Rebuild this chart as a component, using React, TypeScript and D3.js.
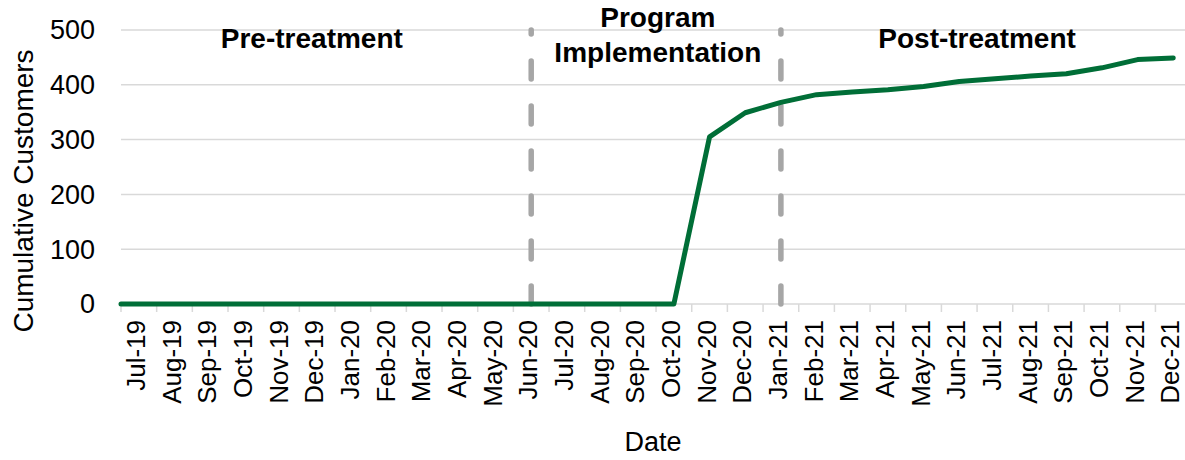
import React, { useEffect, useRef } from 'react';
import * as d3 from 'd3';

const width = 1185;
const height = 460;
const padding = { left: 121, top: 30, bottom: 304 };
const bandWidth = 35.67;

const months = [
  'Jul-19', 'Aug-19', 'Sep-19', 'Oct-19', 'Nov-19', 'Dec-19',
  'Jan-20', 'Feb-20', 'Mar-20', 'Apr-20', 'May-20', 'Jun-20',
  'Jul-20', 'Aug-20', 'Sep-20', 'Oct-20', 'Nov-20', 'Dec-20',
  'Jan-21', 'Feb-21', 'Mar-21', 'Apr-21', 'May-21', 'Jun-21',
  'Jul-21', 'Aug-21', 'Sep-21', 'Oct-21', 'Nov-21', 'Dec-21',
];

const customers = [
  0, 0, 0, 0, 0, 0,
  0, 0, 0, 0, 0, 0,
  0, 0, 0, 0, 305, 349,
  368, 382, 387, 391, 397, 406,
  411, 416, 420, 431, 446, 449,
];

const yTicks = [0, 100, 200, 300, 400, 500];

// dashed phase boundaries sit on these months
const phaseMarks = ['Jun-20', 'Jan-21'];

// phase headings: lines of text and their position on the month index
const phaseLabels = [['Pre-treatment'], ['Program', 'Implementation'], ['Post-treatment']];
const phaseIndex = [5.35, 15.05, 24.0];

export default function App() {
  const ref = useRef<SVGSVGElement>(null);

  useEffect(() => {
    document.body.style.margin = '0';
    const svg = d3.select(ref.current);
    svg.selectAll('*').remove();

    const xScale = d3.scaleBand<string>()
      .domain(months)
      .range([padding.left, padding.left + bandWidth * months.length])
      .paddingInner(0)
      .paddingOuter(0);
    const xIdx = d3.scaleLinear()
      .domain([0, months.length])
      .range(xScale.range());
    const yScale = d3.scaleLinear()
      .domain([0, 500])
      .range([padding.bottom, padding.top]);

    const cx = (m: string) => (xScale(m) as number) + xScale.bandwidth() / 2;
    const font = '"Liberation Sans", Arial, sans-serif';

    // gridlines
    svg.append('g')
      .selectAll('line')
      .data(yTicks.slice(1))
      .join('line')
      .attr('x1', padding.left)
      .attr('x2', width)
      .attr('y1', d => yScale(d))
      .attr('y2', d => yScale(d))
      .attr('stroke', '#d9d9d9')
      .attr('stroke-width', 1.5);

    // x axis, ticks between categories
    const xAxisG = svg.append('g');
    xAxisG.append('line')
      .attr('x1', padding.left)
      .attr('x2', width)
      .attr('y1', yScale(0))
      .attr('y2', yScale(0))
      .attr('stroke', '#d9d9d9')
      .attr('stroke-width', 1.5);
    xAxisG.selectAll('.tick')
      .data(months)
      .join('line')
      .attr('class', 'tick')
      .attr('x1', d => xScale(d) as number)
      .attr('x2', d => xScale(d) as number)
      .attr('y1', yScale(0))
      .attr('y2', yScale(0) + 8)
      .attr('stroke', '#d9d9d9')
      .attr('stroke-width', 1.5);
    xAxisG.selectAll('text')
      .data(months)
      .join('text')
      .attr('transform', d => `translate(${cx(d) + 6}, ${yScale(0) + 16}) rotate(-90)`)
      .attr('text-anchor', 'end')
      .attr('font-family', font)
      .attr('font-size', 26)
      .attr('fill', '#000')
      .text(d => d);

    // y tick labels
    svg.append('g')
      .selectAll('text')
      .data(yTicks)
      .join('text')
      .attr('x', 95)
      .attr('y', d => yScale(d))
      .attr('dy', '0.35em')
      .attr('text-anchor', 'end')
      .attr('font-family', font)
      .attr('font-size', 27)
      .attr('fill', '#000')
      .text(d => d);

    // axis titles
    svg.append('text')
      .attr('transform', `translate(33, ${(padding.top + padding.bottom) / 2 + 24}) rotate(-90)`)
      .attr('text-anchor', 'middle')
      .attr('font-family', font)
      .attr('font-size', 28)
      .attr('fill', '#000')
      .text('Cumulative Customers');
    svg.append('text')
      .attr('x', 653)
      .attr('y', 451)
      .attr('text-anchor', 'middle')
      .attr('font-family', font)
      .attr('font-size', 27)
      .attr('fill', '#000')
      .text('Date');

    // phase boundaries
    svg.append('g')
      .selectAll('line')
      .data(phaseMarks)
      .join('line')
      .attr('x1', d => cx(d))
      .attr('x2', d => cx(d))
      .attr('y1', yScale(0))
      .attr('y2', yScale(500))
      .attr('stroke', '#a6a6a6')
      .attr('stroke-width', 5.5)
      .attr('stroke-linecap', 'round')
      .attr('stroke-dasharray', '18,27');

    // cumulative customers line
    const line = d3.line<number>()
      .x((d, i) => (i === 0 ? xIdx(0) : cx(months[i])))
      .y(d => yScale(d));
    svg.append('path')
      .datum(customers)
      .attr('d', line)
      .attr('fill', 'none')
      .attr('stroke', '#006e37')
      .attr('stroke-width', 5)
      .attr('stroke-linejoin', 'round')
      .attr('stroke-linecap', 'round');

    // phase headings
    const head = svg.append('g');
    phaseLabels.forEach((lines, k) => {
      const t = head.append('text')
        .attr('x', xIdx(phaseIndex[k]))
        .attr('y', lines.length > 1 ? 27 : 48)
        .attr('text-anchor', 'middle')
        .attr('font-family', font)
        .attr('font-weight', 'bold')
        .attr('font-size', 28)
        .attr('fill', '#000');
      lines.forEach((s, j) => {
        t.append('tspan')
          .attr('x', xIdx(phaseIndex[k]))
          .attr('dy', j === 0 ? 0 : 35)
          .text(s);
      });
    });
  }, []);

  return <svg ref={ref} width={width} height={height} style={{ display: 'block', background: '#fff' }}></svg>;
}
